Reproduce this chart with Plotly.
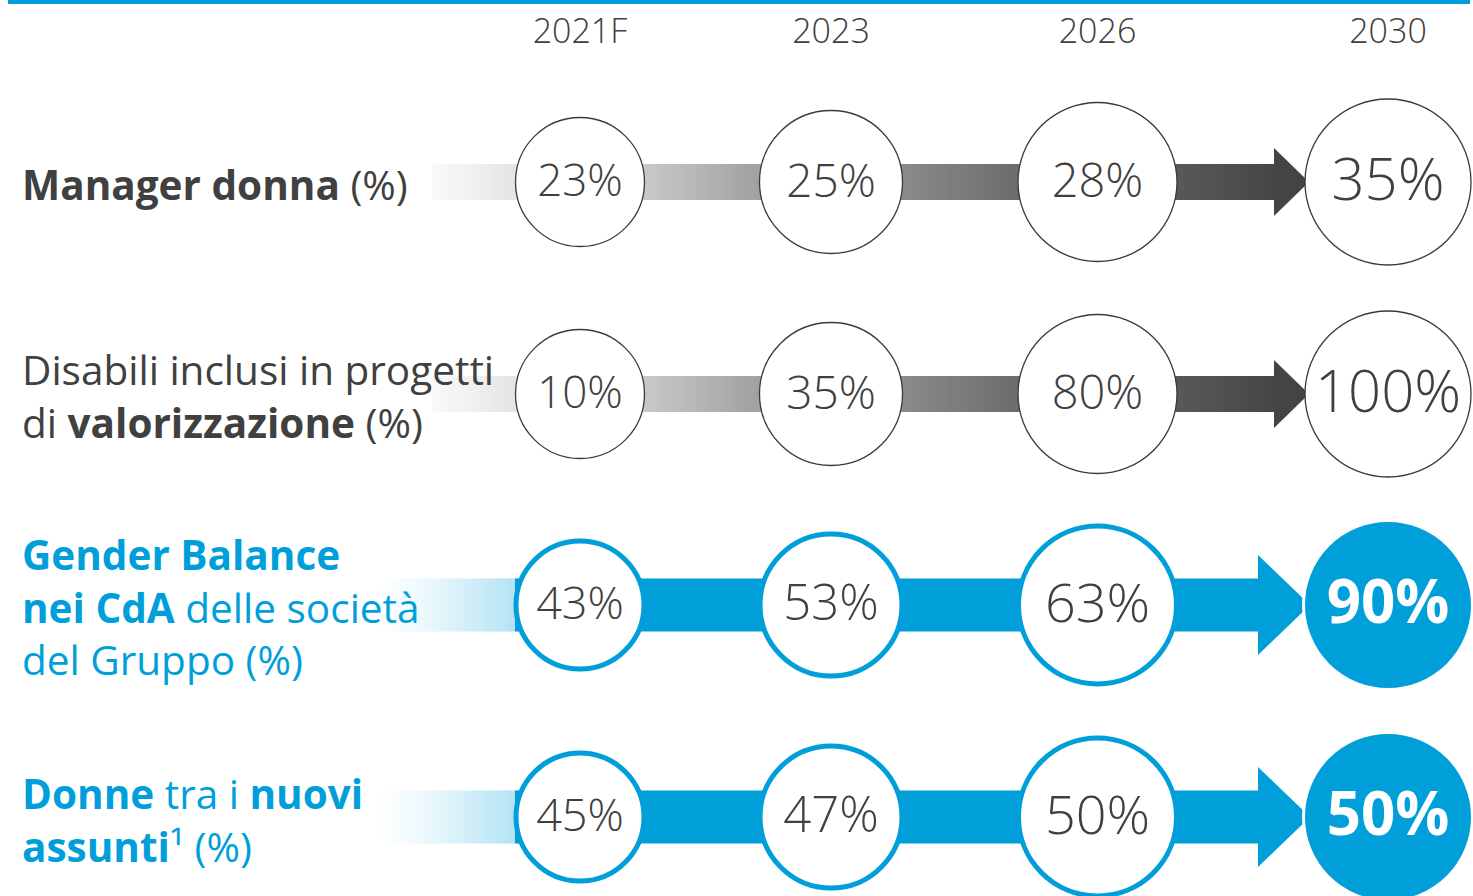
import numpy as np
import plotly.graph_objects as go

# data
years = ["2021F", "2023", "2026", "2030"]
row_labels = [
    "<b>Manager donna</b> (%)",
    "Disabili inclusi in progetti<br>di <b>valorizzazione</b> (%)",
    "<b>Gender Balance</b><br><b>nei CdA</b> delle società<br>del Gruppo (%)",
    "<b>Donne</b> tra i <b>nuovi</b><br><b>assunti</b>¹ (%)",
]
manager_donna = [23, 25, 28, 35]
disabili_inclusi = [10, 35, 80, 100]
gender_balance_cda = [43, 53, 63, 90]
donne_nuovi_assunti = [45, 47, 50, 50]
row_values = [manager_donna, disabili_inclusi, gender_balance_cda, donne_nuovi_assunti]
row_is_blue = [False, False, True, True]

# layout / style
W, H = 1473, 896
BLUE = "#009FDA"
GREY_TXT = "#404040"
FONT = "Open Sans"
col_x = [580, 831, 1097.5, 1388]
col_d = [129, 143, 159, 166]
row_y = [182, 394, 605, 817]

fig = go.Figure()
shapes = []

# blue header edge at the very top
shapes.append(dict(type="rect", x0=8, x1=1470, y0=-30, y1=4, fillcolor=BLUE,
                   line=dict(width=0), layer="below"))


def grey_at(x):
    xs = [432, 515, 644, 759, 902, 1018, 1177, 1274]
    vs = [250, 228, 200, 160, 138, 108, 88, 70]
    v = int(round(np.interp(x, xs, vs)))
    return f"rgb({v},{v},{v})"


def light_blue_at(x):
    # white -> pale blue fade on the left of the blue rows
    a = 0.3 * ((x - 373) / (515 - 373)) ** 1.3
    r = int(round(255 + (0 - 255) * a))
    g = int(round(255 + (159 - 255) * a))
    b = int(round(255 + (218 - 255) * a))
    return f"rgb({r},{g},{b})"


step = 3
for r, y in enumerate(row_y):
    if not row_is_blue[r]:
        half = 18
        # gradient band from left fade to the arrow head
        for x in range(432, 1276, step):
            shapes.append(dict(type="rect", x0=x, x1=x + step + 0.8, y0=y - half, y1=y + half,
                               fillcolor=grey_at(x), line=dict(width=0), layer="below"))
        shapes.append(dict(type="path",
                           path=f"M 1274 {y-34} L 1309 {y} L 1274 {y+34} Z",
                           fillcolor="rgb(68,68,68)", line=dict(width=0), layer="below"))
    else:
        half = 26.5
        for x in range(373, 516, step):
            shapes.append(dict(type="rect", x0=x, x1=x + step + 0.8, y0=y - half, y1=y + half,
                               fillcolor=light_blue_at(x), line=dict(width=0), layer="below"))
        shapes.append(dict(type="rect", x0=515, x1=1259, y0=y - half, y1=y + half,
                           fillcolor=BLUE, line=dict(width=0), layer="below"))
        shapes.append(dict(type="path",
                           path=f"M 1258 {y-50} L 1310 {y} L 1258 {y+50} Z",
                           fillcolor=BLUE, line=dict(width=0), layer="below"))

# circles with values
for r, y in enumerate(row_y):
    vals = row_values[r]
    txt = [f"{v}%" for v in vals]
    if row_is_blue[r]:
        fill = ["white", "white", "white", BLUE]
        lcol = [BLUE, BLUE, BLUE, "white"]
        lw = [5, 5, 5, 3]
        sizes = [col_d[0] - 1, col_d[1] - 1, col_d[2] - 1, col_d[3] + 3]
        txt[3] = f"<b>{vals[3]}%</b>"
        tcol = [GREY_TXT, GREY_TXT, GREY_TXT, "white"]
        tsize = [45, 49, 54, 60]
    else:
        fill = ["white"] * 4
        lcol = ["#3a3a3a"] * 4
        lw = [1.3] * 4
        sizes = col_d
        tcol = [GREY_TXT] * 4
        tsize = [44, 46, 47, 58]
    fig.add_trace(go.Scatter(
        x=col_x, y=[y] * 4, mode="markers",
        marker=dict(size=sizes, color=fill, opacity=1, line=dict(color=lcol, width=lw)),
        hoverinfo="skip", showlegend=False, cliponaxis=False,
    ))
    fig.add_trace(go.Scatter(
        x=col_x, y=[y + 3] * 4, mode="text", text=txt,
        textposition="middle center",
        textfont=dict(family=FONT, size=tsize, color=tcol, weight=300),
        hoverinfo="skip", showlegend=False, cliponaxis=False,
    ))

# year header
fig.add_trace(go.Scatter(
    x=col_x, y=[34] * 4, mode="text", text=years, textposition="middle center",
    textfont=dict(family=FONT, size=34, color=GREY_TXT, weight=300),
    hoverinfo="skip", showlegend=False,
))

annotations = []
label_y = [184, 396, 607, 820]
for r, lab in enumerate(row_labels):
    annotations.append(dict(
        x=20, y=label_y[r], xref="x", yref="y", text=lab, showarrow=False,
        xanchor="left", yanchor="middle", align="left",
        font=dict(family=FONT, size=40.5, color=BLUE if row_is_blue[r] else GREY_TXT),
    ))

fig.update_layout(
    width=W, height=H, margin=dict(l=0, r=0, t=0, b=0),
    paper_bgcolor="white", plot_bgcolor="white",
    xaxis=dict(range=[0, W], visible=False, fixedrange=True),
    yaxis=dict(range=[H, 0], visible=False, fixedrange=True),
    shapes=shapes, annotations=annotations,
)

fig.write_html("out.html", config={"displayModeBar": False},
               post_script="document.body.style.margin='0';")
